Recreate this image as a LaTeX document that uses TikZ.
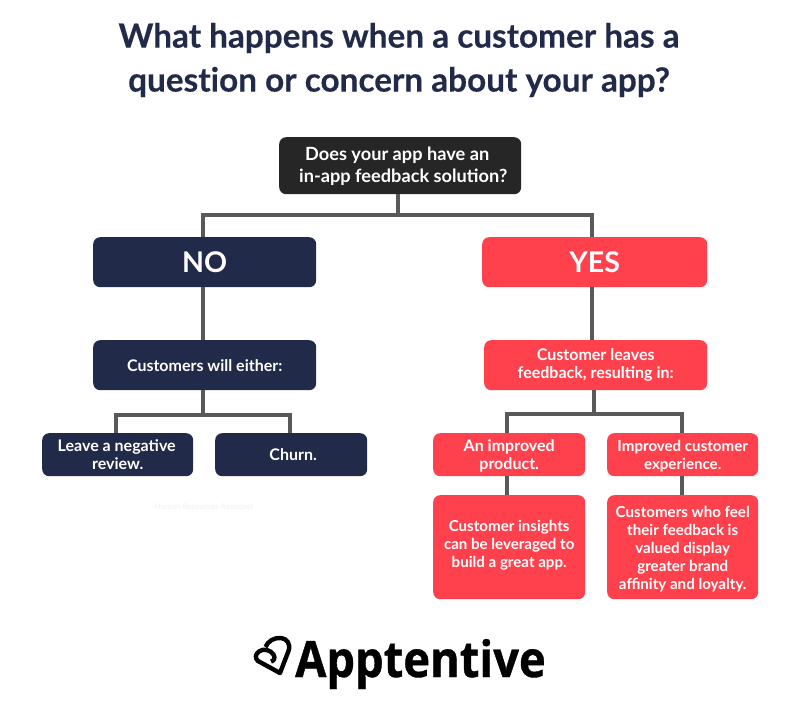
\documentclass[tikz,border=0pt]{standalone}
\usepackage{fontspec}
\setmainfont{Lato}
\newfontfamily\logofont[FakeStretch=0.905,FakeBold=0.8]{Open Sans}
\newfontfamily\plainlato[Ligatures=NoCommon,FakeBold=0.3]{Lato}
\definecolor{navy}{HTML}{222A4A}
\definecolor{coral}{HTML}{FF414D}
\definecolor{ink}{HTML}{262626}
\definecolor{wire}{HTML}{595959}
\definecolor{ghost}{HTML}{F4F4F4}
\tikzset{
  card/.style={rounded corners=7pt,inner sep=0pt,text=white,align=center,anchor=north west,font=\bfseries\fontsize{16}{18.2}\selectfont},
  smalltext/.style={font=\bfseries\fontsize{15.1}{18}\selectfont},
  navycard/.style={card,fill=navy},
  coralcard/.style={card,fill=coral},
  bigcard/.style={font=\bfseries\fontsize{28.5}{30}\selectfont},
  conn/.style={draw=wire,line width=4.2pt}
}
\begin{document}
\begin{tikzpicture}[x=1pt,y=-1pt]
\useasboundingbox[fill=white] (0,0) rectangle (800,708);
\node[align=center,text=navy,font=\plainlato\bfseries\fontsize{33.3}{44}\selectfont,anchor=center] (title) at (399,60) {What happens when a customer has a\\question or concern about your app?};
\node[card,fill=ink,minimum width=242pt,minimum height=57pt,font=\bfseries\fontsize{18.2}{22}\selectfont] (root) at (279,137) {\rule{0pt}{15.5pt}\hspace*{-6pt}Does your app have an\\\hspace*{6pt}in-app feedback solution?};
\node[navycard,bigcard,minimum width=223pt,minimum height=50pt] (no) at (93,237) {NO};
\node[coralcard,bigcard,minimum width=225pt,minimum height=50pt] (yes) at (482,237) {YES};
\node[navycard,minimum width=223pt,minimum height=50pt] (either) at (93,340) {Customers will either:};
\node[coralcard,minimum width=223pt,minimum height=50pt] (leaves) at (484,340) {Customer leaves\\feedback, resulting in:};
\node[navycard,minimum width=151pt,minimum height=43pt] (review) at (42,433) {\hspace*{-2pt}Leave a negative\\review.};
\node[navycard,minimum width=152pt,minimum height=43pt] (churn) at (215,433) {\hspace*{4pt}Churn.};
\node[coralcard,minimum width=152pt,minimum height=43pt] (product) at (433,433) {\rule{0pt}{14.5pt}An improved\\product.};
\node[coralcard,smalltext,minimum width=151pt,minimum height=43pt] (experience) at (607,433) {\rule{0pt}{13.5pt}Improved customer\\experience.};
\node[coralcard,smalltext,minimum width=152pt,minimum height=104pt] (insights) at (433,495) {Customer insights\\can be leveraged to\\build a great app.\rule[-6pt]{0pt}{0pt}};
\node[coralcard,smalltext,minimum width=151pt,minimum height=104pt] (loyal) at (607,495) {\rule{0pt}{15.5pt}Customers who feel\\their feedback is\\valued display\\greater brand\\affinity and loyalty.};
\node[text=ghost,font=\bfseries\fontsize{8}{9}\selectfont] (ghosttext) at (204,507) {Human Resources Assistant};
% connectors
\coordinate (j1) at (398,215);
\coordinate (j2) at (203,415);
\coordinate (j3) at (594,414);
\draw[conn] (root.south -| j1) -- (j1);
\draw[conn] (no.north -| 203,0) |- (j1) -| (yes.north -| 592,0);
\draw[conn] (no.south -| 203,0) -- (either.north -| 203,0);
\draw[conn] (yes.south -| 592,0) -- (leaves.north -| 592,0);
\draw[conn] (either.south -| j2) -- (j2);
\draw[conn] (review.north -| 116,0) |- (j2) -| (churn.north -| 290,0);
\draw[conn] (leaves.south -| j3) -- (j3);
\draw[conn] (product.north -| 507,0) |- (j3) -| (experience.north -| 682,0);
\draw[conn] (product.south -| 507,0) -- (insights.north -| 507,0);
\draw[conn] (experience.south -| 682,0) -- (loyal.north -| 682,0);
% logo
\node[text=black,font=\logofont\bfseries\fontsize{50}{50}\selectfont,anchor=base west,inner sep=0pt] (logo) at (295,677) {Apptentive};
\draw[black,line width=4.4pt,line join=round] (271,661.5) .. controls (274,661) and (275.5,658) .. (273.5,654.5) .. controls (271,650) and (263,648) .. (259,651.5) .. controls (255,654) and (255,658.5) .. (258,661) -- (280,673) -- (288.5,651) .. controls (291,644) and (287,638.5) .. (281,638) .. controls (274,637.5) and (268,641) .. (265.5,647);
\end{tikzpicture}
\end{document}
